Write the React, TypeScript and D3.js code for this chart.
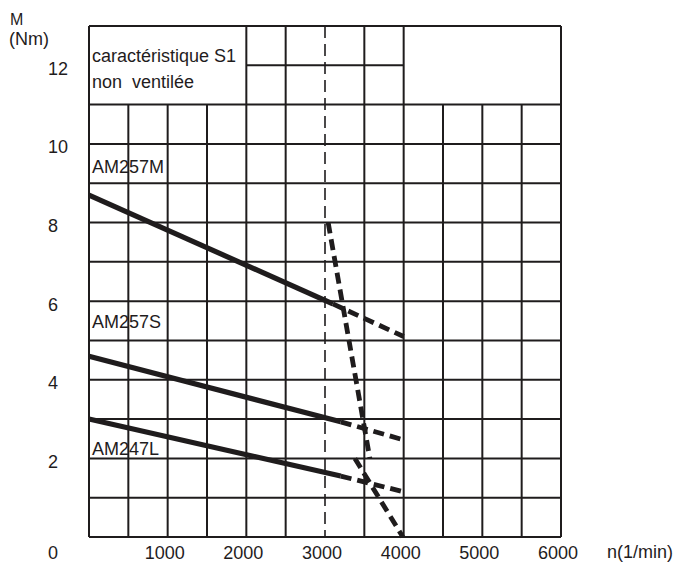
import React, { useEffect, useRef } from "react";
import * as d3 from "d3";

// chart values
const xTicks = [1000, 2000, 3000, 4000, 5000, 6000];
const yTicks = [2, 4, 6, 8, 10, 12];
const curveNames = ["AM257M", "AM257S", "AM247L"];

// [speed (1/min), torque (Nm)]
const am257mSolid = [[0, 8.7], [3100, 5.93]];
const am257mDashed = [[3100, 5.93], [4000, 5.1]];
const am257sSolid = [[0, 4.6], [3200, 2.93]];
const am257sDashed = [[3200, 2.93], [4000, 2.47]];
const am247lSolid = [[0, 3.0], [3200, 1.55]];
const am247lDashed = [[3200, 1.55], [4000, 1.15]];
const limitUpper = [[3040, 8.0], [3570, 2.0]];
const limitLower = [[3380, 2.0], [3990, 0]];

const W = 689;
const H = 564;
const INK = "#1f1c1d";
const FONT = "'Liberation Sans', Arial, sans-serif";

const App = () => {
  const svgRef = useRef<SVGSVGElement>(null);

  useEffect(() => {
    const svg = d3.select(svgRef.current);
    svg.selectAll("*").remove();

    const x = d3.scaleLinear().domain([0, 6000]).range([89, 561]);
    const y = d3.scaleLinear().domain([0, 13]).range([537, 26]);

    const grid = svg.append("g").attr("stroke", INK).attr("stroke-width", 2);

    // vertical grid lines (3000 is drawn dashed below)
    const tallCols = [0, 2000, 2500, 3500, 4000, 6000];
    d3.range(0, 6001, 500)
      .filter(v => v !== 3000)
      .forEach(v => {
        grid
          .append("line")
          .attr("x1", x(v))
          .attr("x2", x(v))
          .attr("y1", y(0))
          .attr("y2", tallCols.includes(v) ? y(13) : y(11));
      });

    // horizontal grid lines
    d3.range(0, 12).forEach(v => {
      grid
        .append("line")
        .attr("x1", x(0))
        .attr("x2", x(6000))
        .attr("y1", y(v))
        .attr("y2", y(v));
    });
    grid.append("line")
      .attr("x1", x(2000)).attr("x2", x(4000))
      .attr("y1", y(12)).attr("y2", y(12));
    grid.append("line")
      .attr("x1", x(0)).attr("x2", x(6000))
      .attr("y1", y(13)).attr("y2", y(13));

    // thin dashed line at 3000
    svg
      .append("line")
      .attr("x1", x(3000))
      .attr("x2", x(3000))
      .attr("y1", y(13))
      .attr("y2", y(0))
      .attr("stroke", INK)
      .attr("stroke-width", 1.6)
      .attr("stroke-dasharray", "12 6");

    const line = d3
      .line<number[]>()
      .x(d => x(d[0]))
      .y(d => y(d[1]));

    [am257mSolid, am257sSolid, am247lSolid].forEach(seg => {
      svg
        .append("path")
        .datum(seg)
        .attr("fill", "none")
        .attr("stroke", INK)
        .attr("stroke-width", 5.2)
        .attr("d", line);
    });

    [am257mDashed, am257sDashed, am247lDashed, limitUpper, limitLower].forEach(seg => {
      svg
        .append("path")
        .datum(seg)
        .attr("fill", "none")
        .attr("stroke", INK)
        .attr("stroke-width", 4.8)
        .attr("stroke-dasharray", "11 6")
        .attr("d", line);
    });

    const txt = svg
      .append("g")
      .attr("fill", INK)
      .style("font-family", FONT)
      .style("font-size", "18px");

    // box text
    txt.append("text").attr("x", x(0) + 3).attr("y", 62).text("caractéristique S1");
    txt.append("text")
      .attr("x", x(0) + 3)
      .attr("y", 88)
      .style("white-space", "pre")
      .text("non  ventilée");

    // curve labels
    const labelM = [9.27, 5.32, 2.09];
    curveNames.forEach((name, i) => {
      txt.append("text").attr("x", x(0) + 3).attr("y", y(labelM[i])).text(name);
    });

    // y tick labels
    yTicks.forEach(v => {
      txt.append("text").attr("x", 48).attr("y", y(v) + 9.5).text(v);
    });

    // x tick labels
    txt.append("text").attr("x", 48).attr("y", 559).text("0");
    xTicks.forEach(v => {
      txt
        .append("text")
        .attr("x", x(v) - 3)
        .attr("y", 559)
        .attr("text-anchor", "middle")
        .text(v);
    });

    // axis titles
    txt.append("text").attr("x", 10).attr("y", 25).style("font-size", "16px").text("M");
    txt.append("text").attr("x", 9).attr("y", 45).text("(Nm)");
    txt.append("text").attr("x", 607).attr("y", 558).text("n(1/min)");
  }, []);

  return (
    <svg
      ref={svgRef}
      width={W}
      height={H}
      style={{ position: "absolute", left: 0, top: 0, background: "#fff" }}
    />
  );
};

export default App;
